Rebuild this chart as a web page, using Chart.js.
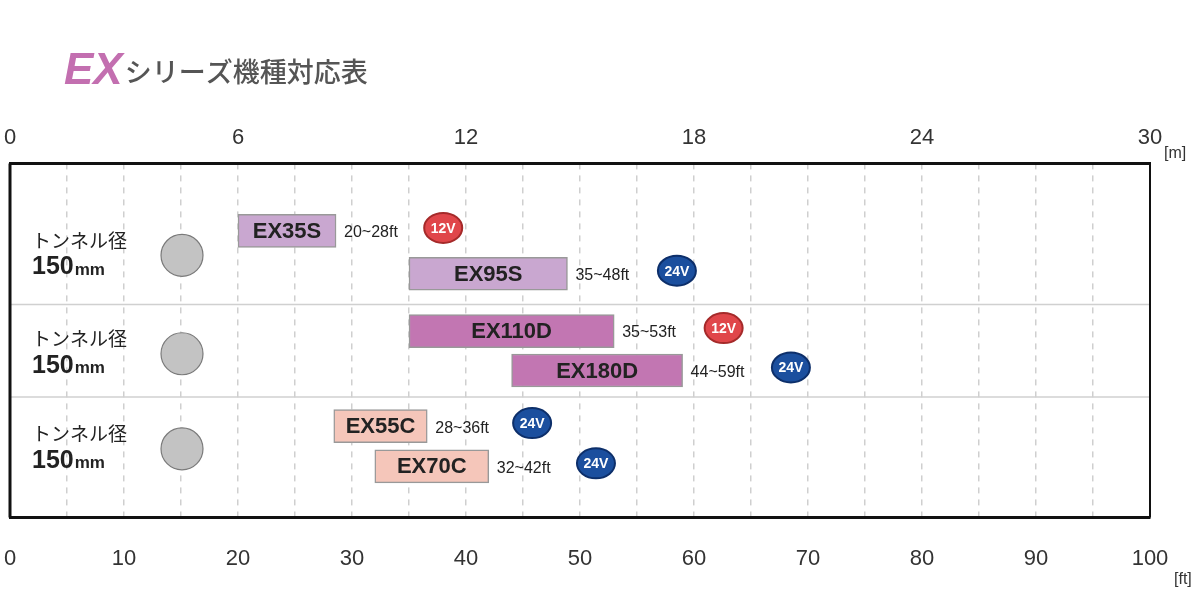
<!DOCTYPE html>
<html><head><meta charset="utf-8">
<script src="https://cdn.jsdelivr.net/npm/chart.js@4"></script>
<style>body{margin:0;background:#fff}canvas{display:block}</style>
</head><body>
<canvas id="c" width="1200" height="600"></canvas>
<script>
const models=['EX35S','EX95S','EX110D','EX180D','EX55C','EX70C'];
const rowPos=[53,103,170,216,281,328];
const startFt=[20,35,35,44,28.4,32];
const endFt=[28.6,48.9,53,59,36.6,42];
const rangeLabels=['20~28ft','35~48ft','35~53ft','44~59ft','28~36ft','32~42ft'];
const voltages=['12V','24V','12V','24V','24V','24V'];
const voltPosFt=[38,58.5,62.6,68.5,45.8,51.4];
const barColors=['#c9a7d0','#c9a7d0','#c276b2','#c276b2','#f5c6ba','#f5c6ba'];
const groupLabel=['トンネル径','150','mm'];
const groupSeparators=[139,247];
const groupCenters=[78,193,304];

const deco={id:'deco',
 beforeDatasetsDraw(ch){const c=ch.ctx,a=ch.chartArea,y=ch.scales.y;
  c.save();c.strokeStyle='#d0d0d0';c.lineWidth=1.5;
  groupSeparators.forEach(v=>{const p=y.getPixelForValue(v);c.beginPath();c.moveTo(a.left,p);c.lineTo(a.right,p);c.stroke();});
  c.restore();},
 afterDatasetsDraw(ch){const c=ch.ctx,a=ch.chartArea,x=ch.scales.x,y=ch.scales.y;
  c.save();
  c.strokeStyle='#111';c.lineWidth=3;c.beginPath();c.moveTo(a.left,a.top);c.lineTo(a.left,a.bottom);c.stroke();
  c.lineWidth=2;c.beginPath();c.moveTo(a.right,a.top);c.lineTo(a.right,a.bottom);c.stroke();
  c.textBaseline='alphabetic';c.textAlign='left';
  c.fillStyle='#c36fb0';c.font='italic bold 44px "Liberation Sans", Arial';
  c.fillText('EX',64,84);const w=c.measureText('EX').width;
  c.fillStyle='#555';c.font='500 27px "Noto Sans CJK JP"';c.fillText('シリーズ機種対応表',64+w+2,82);
  c.fillStyle='#333';c.font='16px "Liberation Sans", Arial';
  c.fillText('[m]',a.right+14,158);c.fillText('[ft]',a.right+24,584);
  groupCenters.forEach(v=>{const p=y.getPixelForValue(v);
   c.fillStyle='#222';c.font='19px "Noto Sans CJK JP"';c.textAlign='left';c.textBaseline='middle';
   c.fillText(groupLabel[0],32,p-12);
   c.font='bold 25px "Liberation Sans", Arial';c.fillText(groupLabel[1],32,p+15);
   const bw=c.measureText(groupLabel[1]).width;c.font='bold 17px "Liberation Sans", Arial';c.fillText(groupLabel[2],32+bw+1,p+18);
   c.beginPath();c.arc(182,p+3,21,0,Math.PI*2);c.fillStyle='#c3c3c3';c.fill();c.strokeStyle='#7a7a7a';c.lineWidth=1.2;c.stroke();});
  const meta=ch.getDatasetMeta(0);
  meta.data.forEach((el,i)=>{
   c.fillStyle='#222';c.font='bold 22px "Liberation Sans", Arial';c.textAlign='center';c.textBaseline='middle';
   c.fillText(models[i],(el.x+el.base)/2,el.y+1);
   c.font='16px "Liberation Sans", Arial';c.textAlign='left';c.fillText(rangeLabels[i],el.x+8,el.y+2);
   const vx=x.getPixelForValue(voltPosFt[i]),vy=el.y-3;
   const red=voltages[i]==='12V';
   c.beginPath();c.ellipse(vx,vy,19,15,0,0,Math.PI*2);
   c.fillStyle=red?'#e0464a':'#1b4f9e';c.fill();c.lineWidth=2;c.strokeStyle=red?'#a52a2a':'#0d2f6a';c.stroke();
   c.fillStyle='#fff';c.font='bold 14px "Liberation Sans", Arial';c.textAlign='center';c.fillText(voltages[i],vx,vy+1);
  });
  c.restore();}
};
const noPad=s=>{s.paddingLeft=0;s.paddingRight=0;};

new Chart(document.getElementById('c'),{
 type:'bar',
 data:{datasets:[{data:models.map((m,i)=>({x:[startFt[i],endFt[i]],y:rowPos[i]})),
  backgroundColor:barColors,borderColor:'#999',borderWidth:1.5,borderSkipped:false,barThickness:33}]},
 options:{indexAxis:'y',responsive:false,animation:false,
  layout:{padding:{left:10,right:50,top:113,bottom:0}},
  plugins:{legend:{display:false},tooltip:{enabled:false}},
  scales:{
   y:{type:'linear',min:0,max:362,reverse:true,display:false},
   x:{type:'linear',position:'bottom',min:0,max:100,afterFit:noPad,
    ticks:{stepSize:5,padding:28,color:'#333',font:{size:22,family:'"Liberation Sans", Arial'},callback:v=>v%10===0?v:''},
    grid:{color:'#cfcfcf',lineWidth:1.5,drawTicks:false},
    border:{display:true,color:'#111',width:3,dash:[6,6]}},
   x2:{type:'linear',position:'top',min:0,max:30,afterFit:noPad,
    ticks:{stepSize:6,padding:12,color:'#333',font:{size:22,family:'"Liberation Sans", Arial'}},
    grid:{display:false,drawTicks:false},border:{display:true,color:'#111',width:3}}
  }},
 plugins:[deco]});
</script></body></html>
